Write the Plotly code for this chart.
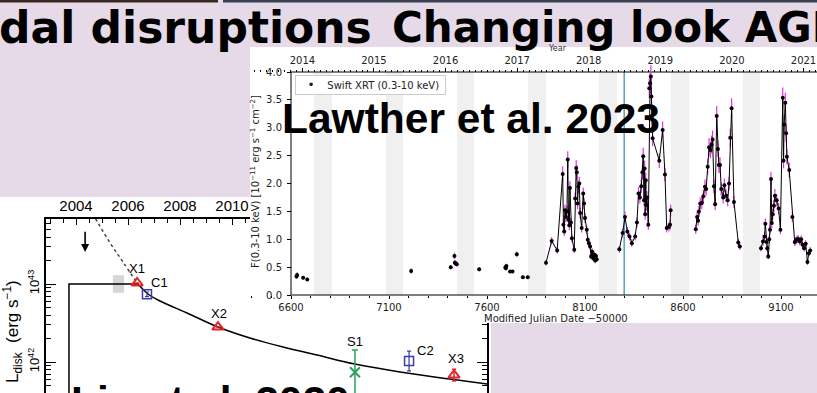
import numpy as np
import plotly.graph_objects as go

W, H = 817, 393

# ---------------- Swift XRT light curve (MJD-50000, 1e-11 erg/s/cm^2) ----------------
early_mjd = [6628, 6631, 6662, 6683, 7213, 7415, 7434, 7436, 7440, 7446, 7560,
             7694, 7696, 7699, 7718, 7730, 7752, 7783, 7808]
early_flux = [0.33, 0.36, 0.31, 0.28, 0.43, 0.50, 0.70, 0.58, 0.57, 0.55, 0.46,
              0.50, 0.48, 0.52, 0.42, 0.42, 0.73, 0.32, 0.32]
early_err = [0.04, 0.05, 0.03, 0.03, 0.05, 0.04, 0.06, 0.05, 0.05, 0.04, 0.04,
             0.04, 0.04, 0.04, 0.03, 0.03, 0.05, 0.03, 0.03]

s1_mjd = [7901, 7930, 7958, 7986, 7990, 7994, 7998, 8003, 8008, 8012, 8016, 8020, 8023,
          8028, 8033, 8045, 8050, 8055, 8058, 8062, 8066, 8071, 8075, 8083, 8091, 8095,
          8100, 8109, 8114, 8120, 8126, 8131, 8136, 8142, 8148, 8152, 8156, 8160]
s1_flux = [0.58, 0.97, 0.80, 2.17, 1.26, 1.14, 1.52, 1.40, 1.50, 2.43, 1.35, 1.25, 1.92,
           1.30, 1.02, 0.81, 1.73, 2.28, 2.20, 1.64, 1.94, 2.00, 1.47, 1.20, 1.82, 1.64,
           1.38, 1.17, 0.99, 0.93, 0.87, 0.69, 0.78, 0.66, 0.72, 0.62, 0.70, 0.64]
s1_err = [0.05, 0.07, 0.06, 0.14, 0.09, 0.08, 0.10, 0.09, 0.10, 0.15, 0.09, 0.09, 0.12,
          0.09, 0.07, 0.06, 0.11, 0.14, 0.13, 0.10, 0.12, 0.12, 0.10, 0.08, 0.11, 0.10,
          0.09, 0.08, 0.07, 0.07, 0.06, 0.05, 0.06, 0.05, 0.06, 0.05, 0.05, 0.05]

s2_mjd = [8275, 8292, 8304, 8316, 8327, 8339, 8356, 8365, 8373, 8380, 8387, 8393, 8397,
          8401, 8404, 8407, 8410, 8413, 8416, 8423, 8428, 8432, 8436, 8439, 8442, 8445,
          8479, 8496, 8508, 8517, 8528, 8534, 8537]
s2_flux = [0.82, 1.11, 1.40, 1.14, 1.05, 0.93, 1.05, 1.30, 1.82, 1.75, 1.95, 2.20, 2.49,
           1.70, 2.27, 1.45, 2.06, 1.62, 1.75, 1.26, 3.71, 3.80, 3.92, 3.56, 3.20, 2.81,
           2.41, 2.96, 2.16, 1.20, 1.22, 1.26, 1.52]
s2_err = [0.06, 0.08, 0.10, 0.08, 0.07, 0.07, 0.07, 0.09, 0.12, 0.11, 0.12, 0.13, 0.15,
          0.11, 0.14, 0.10, 0.13, 0.11, 0.11, 0.09, 0.18, 0.19, 0.20, 0.17, 0.16, 0.14,
          0.13, 0.15, 0.12, 0.08, 0.08, 0.09, 0.10]

s3_mjd = [8665, 8672, 8677, 8681, 8688, 8696, 8704, 8712, 8718, 8726, 8733, 8740, 8746,
          8751, 8758, 8764, 8772, 8778, 8783, 8789, 8795, 8805, 8811, 8820, 8828, 8835,
          8841, 8848, 8860, 8882, 8890]
s3_flux = [1.18, 1.40, 1.33, 1.50, 1.64, 1.65, 1.77, 1.94, 1.90, 2.30, 2.65, 2.60, 2.70,
           2.79, 1.95, 1.63, 3.21, 2.62, 2.33, 2.33, 1.90, 1.75, 1.97, 1.78, 1.70, 2.00,
           2.82, 3.35, 1.67, 0.94, 0.87]
s3_err = [0.08, 0.10, 0.09, 0.10, 0.11, 0.11, 0.12, 0.13, 0.12, 0.14, 0.16, 0.15, 0.16,
          0.16, 0.12, 0.11, 0.18, 0.15, 0.14, 0.14, 0.12, 0.11, 0.12, 0.11, 0.11, 0.12,
          0.16, 0.18, 0.11, 0.07, 0.06]

s4_mjd = [8998, 9008, 9016, 9020, 9026, 9030, 9035, 9040, 9044, 9049, 9053, 9058, 9064,
          9069, 9078, 9088, 9097, 9109, 9113, 9116, 9122, 9126, 9130, 9142, 9158, 9170,
          9175, 9182, 9189, 9196, 9203, 9210, 9218, 9226, 9235, 9242, 9249]
s4_flux = [0.84, 0.96, 1.05, 1.28, 0.95, 0.84, 0.69, 1.00, 1.17, 2.08, 1.29, 1.45, 1.60,
           1.78, 1.70, 1.55, 1.17, 3.54, 2.41, 3.06, 3.45, 2.90, 2.48, 2.24, 1.40, 0.95,
           0.97, 1.00, 1.00, 0.96, 1.00, 0.90, 0.84, 0.92, 0.59, 0.75, 0.80]
s4_err = [0.06, 0.07, 0.08, 0.09, 0.07, 0.06, 0.05, 0.07, 0.08, 0.13, 0.09, 0.10, 0.11,
          0.12, 0.11, 0.10, 0.08, 0.18, 0.14, 0.16, 0.18, 0.15, 0.14, 0.13, 0.09, 0.07,
          0.07, 0.07, 0.07, 0.07, 0.07, 0.06, 0.06, 0.06, 0.05, 0.05, 0.06]

# sun-constraint windows (no Swift visibility)
gap_start = [6717, 7085, 7447, 7809, 8171, 8539, 8906]
gap_end = [6809, 7171, 7534, 7901, 8263, 8631, 8993]
event_mjd = 8300
mjd_ticks = [6600, 7100, 7600, 8100, 8600, 9100]
year_ticks = [2014, 2015, 2016, 2017, 2018, 2019, 2020, 2021]
flux_ticks = [0.0, 0.5, 1.0, 1.5, 2.0, 2.5, 3.0, 3.5, 4.0]
xrt_label = "Swift XRT (0.3-10 keV)"

# ---------------- disk luminosity decay ----------------
step_year = [2003.73, 2003.73, 2006.35]
step_L = [1e41, 1.0e43, 1.0e43]
extrap_year = [2004.75, 2005.31, 2005.81, 2006.35]
extrap_L = [6.9e43, 3.36e43, 1.91e43, 1.03e43]
decay_year = [2006.35, 2006.77, 2007.23, 2008.27, 2009.46, 2010.69, 2011.96, 2013.27,
              2014.73, 2016.46, 2018.38, 2019.81]
decay_L = [1.03e43, 7.45e42, 6.05e42, 4.25e42, 2.81e42, 2.03e42, 1.56e42, 1.23e42,
           9.4e41, 7.45e41, 6.05e41, 5.22e41]
box_year = [2005.42, 2005.85]
box_L = [7.7e42, 1.30e43]
limit_year = 2004.35
limit_L = [4.9e43, 2.57e43]

xmm_name = ["X1", "X2", "X3"]
xmm_year = [2006.35, 2009.46, 2018.54]
xmm_L = [1.03e43, 2.8e42, 6.8e41]
xmm_up = [0, 0, 1.3e41]
xmm_dn = [0, 0, 1.1e41]
cxo_name = ["C1", "C2"]
cxo_year = [2006.73, 2016.81]
cxo_L = [7.4e42, 1.03e42]
cxo_up = [0.5e42, 0.35e42]
cxo_dn = [0.5e42, 0.26e42]
swift_name = ["S1"]
swift_year = [2014.73]
swift_L = [7.4e41]
swift_up = [6.9e41]
swift_dn = [7.0e41]
lin_year_ticks = [2004, 2006, 2008, 2010, 2012, 2014, 2016, 2018]

# ---------------- geometry ----------------
px_per_day = 0.196
x2_range = [6600 - 41 / px_per_day, 6600 + 526 / px_per_day]
f_px = 223 / 4.0
y2_range = [(295 - 323) / f_px, (295 - 47) / f_px]


def mjd_to_year(m):
    return 2014.0 + (m - 6658.0) / 365.25


x3_range = [mjd_to_year(v) for v in x2_range]

mon_mjd, mon_flux, mon_err = [], [], []
for m, f, e in [(s1_mjd, s1_flux, s1_err), (s2_mjd, s2_flux, s2_err),
                (s3_mjd, s3_flux, s3_err), (s4_mjd, s4_flux, s4_err)]:
    mon_mjd += m + [None]
    mon_flux += f + [None]
    mon_err += e + [0]

SANS = "Liberation Sans, Arial, sans-serif"
DJ = "DejaVu Sans, sans-serif"
ERRC = "#e632e6"

fig = go.Figure()

# lower panel: L_disk history
fig.add_trace(go.Scatter(x=[box_year[0], box_year[1], box_year[1], box_year[0], box_year[0]],
                         y=[box_L[0], box_L[0], box_L[1], box_L[1], box_L[0]],
                         fill="toself", fillcolor="#d6d6d6", mode="lines", line=dict(width=0),
                         showlegend=False, hoverinfo="skip"))
fig.add_trace(go.Scatter(x=step_year, y=step_L, mode="lines",
                         line=dict(color="black", width=1.5), showlegend=False))
fig.add_trace(go.Scatter(x=extrap_year, y=extrap_L, mode="lines", line_shape="spline",
                         line=dict(color="#444444", width=1.5, dash="dot"), showlegend=False))
fig.add_trace(go.Scatter(x=decay_year, y=decay_L, mode="lines", line_shape="spline",
                         line=dict(color="black", width=1.5), showlegend=False))
fig.add_trace(go.Scatter(x=swift_year, y=swift_L, mode="markers",
                         marker=dict(symbol="x-thin", size=10, line=dict(color="#2aa15a", width=2)),
                         error_y=dict(type="data", array=swift_up, arrayminus=swift_dn,
                                      color="#2aa15a", thickness=1.5, width=3),
                         showlegend=False))
fig.add_trace(go.Scatter(x=cxo_year, y=cxo_L, mode="markers",
                         marker=dict(symbol="square-open", size=9, color="#3a3aa8",
                                     line=dict(width=1.5)),
                         error_y=dict(type="data", array=cxo_up, arrayminus=cxo_dn,
                                      color="#3a3aa8", thickness=1.2, width=2),
                         showlegend=False))
fig.add_trace(go.Scatter(x=xmm_year, y=xmm_L, mode="markers",
                         marker=dict(symbol="triangle-up-open", size=10, color="#e4252b",
                                     line=dict(width=2)),
                         error_y=dict(type="data", array=xmm_up, arrayminus=xmm_dn,
                                      color="#e4252b", thickness=1.5, width=2),
                         showlegend=False))

# upper panel: X-ray light curve
fig.add_trace(go.Scatter(x=early_mjd, y=early_flux, mode="markers", xaxis="x2", yaxis="y2",
                         marker=dict(color="black", size=4),
                         error_y=dict(type="data", array=early_err, color=ERRC,
                                      thickness=1.2, width=0),
                         showlegend=False))
fig.add_trace(go.Scatter(x=mon_mjd, y=mon_flux, mode="lines+markers", xaxis="x2", yaxis="y2",
                         connectgaps=False, line=dict(color="black", width=1),
                         marker=dict(color="black", size=4),
                         error_y=dict(type="data", array=mon_err, color=ERRC,
                                      thickness=1.2, width=0),
                         name=xrt_label, showlegend=False))
fig.add_trace(go.Scatter(x=[year_ticks[0]], y=[None], mode="markers", xaxis="x3", yaxis="y2",
                         showlegend=False, hoverinfo="skip"))

shapes = [
    dict(type="rect", xref="paper", yref="paper", x0=0, x1=218 / W, y0=1 - 2.5 / H, y1=1,
         fillcolor="#3a2620", line=dict(width=0), layer="below"),
    dict(type="rect", xref="paper", yref="paper", x0=223 / W, x1=1, y0=1 - 2.5 / H, y1=1,
         fillcolor="#394052", line=dict(width=0), layer="below"),
    dict(type="rect", xref="paper", yref="paper", x0=0, x1=491 / W, y0=0, y1=1 - 197 / H,
         fillcolor="white", line=dict(width=0), layer="below"),
    dict(type="rect", xref="x2", yref="y2", x0=x2_range[0], x1=x2_range[1] + 50,
         y0=y2_range[0] - 1, y1=y2_range[1] + 1, fillcolor="white", line=dict(width=0),
         layer="below"),
]
for a, b in zip(gap_start, gap_end):
    shapes.append(dict(type="rect", xref="x2", yref="y2", x0=a, x1=b, y0=0, y1=4,
                       fillcolor="#f0f0f0", line=dict(width=0), layer="below"))
shapes.append(dict(type="line", xref="x2", yref="y2", x0=event_mjd, x1=event_mjd, y0=0, y1=4,
                   line=dict(color="#5e9cc8", width=1.5), layer="below"))
shapes.append(dict(type="rect", xref="x2", yref="y2", x0=6600, x1=x2_range[1] + 50, y0=0, y1=4,
                   line=dict(color="black", width=1), fillcolor="rgba(0,0,0,0)", layer="below"))


def paper_text(text, x, y, size, family=DJ, color="#222222", angle=0, xanchor="center",
               weight="normal", xshift=0):
    return dict(text=text, x=x / W, y=1 - y / H, xref="paper", yref="paper",
                xanchor=xanchor, yanchor="middle", showarrow=False, textangle=angle,
                xshift=xshift, font=dict(family=family, size=size, color=color, weight=weight))


nb = "&nbsp;"
legend_box = dict(text=nb * 3 + "<span style='font-size:12px'>•</span>" + nb * 4 + xrt_label,
                  x=295 / W, y=1 - 75 / H, xref="paper", yref="paper", xanchor="left",
                  yanchor="top", align="left", width=145, showarrow=False,
                  bgcolor="white", bordercolor="#cccccc", borderwidth=1, borderpad=2,
                  font=dict(family=DJ, size=10, color="#222222"))

annotations = [
    paper_text("dal disruptions", 0, 28, 44, color="black", xanchor="left", weight="bold",
               xshift=-3),
    paper_text("Changing look AGN", 390, 28, 42, color="black", xanchor="left", weight="bold"),
    paper_text("Year", 557, 49, 8, color="#333333"),
    paper_text("F(0.3-10 keV) [10<sup>−11</sup> erg s<sup>−1</sup> cm<sup>−2</sup>]",
               255, 182, 10, angle=-90),
    paper_text("Modified Julian Date −50000", 556, 318, 10),
    paper_text("L<sub>disk</sub>" + nb + " (erg s<sup>−1</sup>)", 12, 332, 17, family=SANS,
               color="black", angle=-90),
    legend_box,
    paper_text("Lawther et al. 2023", 280, 118, 42.5, family=SANS, color="black",
               xanchor="left", weight="bold"),
    paper_text("Lin et al. 2020", 69, 402, 42.5, family=SANS, color="black",
               xanchor="left", weight="bold"),
    dict(text="", x=limit_year, y=np.log10(limit_L[1]), ax=limit_year, ay=np.log10(limit_L[0]),
         xref="x", yref="y", axref="x", ayref="y", showarrow=True, arrowhead=2,
         arrowsize=1, arrowwidth=1.6, arrowcolor="black"),
]

label_shift = {"X1": (0, 15), "C1": (13, 12), "X2": (1, 14), "S1": (0, 31),
               "C2": (16, 11), "X3": (2, 17)}
for names, yrs, Ls in [(xmm_name, xmm_year, xmm_L), (cxo_name, cxo_year, cxo_L),
                       (swift_name, swift_year, swift_L)]:
    for n, yr, L in zip(names, yrs, Ls):
        dx, dy = label_shift[n]
        annotations.append(dict(text=n, x=yr, y=np.log10(L), xref="x", yref="y",
                                xanchor="center", yanchor="middle",
                                xshift=dx, yshift=dy, showarrow=False,
                                font=dict(family=SANS, size=13, color="black")))

minor_L = [m * 10.0 ** e for e in (41, 42, 43) for m in range(2, 10)]

fig.update_layout(
    width=W, height=H, margin=dict(l=0, r=0, t=0, b=0),
    paper_bgcolor="#e6dae8", plot_bgcolor="rgba(0,0,0,0)",
    shapes=shapes, annotations=annotations, showlegend=False,
    xaxis=dict(domain=[46 / W, 487 / W], anchor="y", side="top",
               range=[2004 + (46 - 76) / 26, 2004 + (487 - 76) / 26],
               tickvals=lin_year_ticks, ticks="inside", ticklen=6, tickwidth=1.2,
               tickcolor="black", showline=True, linecolor="black", linewidth=1.5,
               showgrid=False, zeroline=False,
               tickfont=dict(family=SANS, size=15, color="black"),
               minor=dict(ticks="inside", dtick=0.5, ticklen=4, tickcolor="black")),
    yaxis=dict(domain=[0, 1 - 219 / H], anchor="x", type="log",
               range=[43 + (284 - 393) / 78, 43 + (284 - 219) / 78],
               tickvals=[1e42, 1e43], ticktext=["10<sup>42</sup>", "10<sup>43</sup>"],
               tickangle=-90, ticks="inside", ticklen=10, tickwidth=1.2, tickcolor="black",
               showline=True, mirror="ticks", linecolor="black", linewidth=1.5,
               showgrid=False, zeroline=False,
               tickfont=dict(family=SANS, size=13, color="black"),
               minor=dict(ticks="inside", tickvals=minor_L, ticklen=5, tickcolor="black")),
    xaxis2=dict(domain=[250 / W, 1], anchor="free", position=1 - 295 / H, range=x2_range,
                tickvals=mjd_ticks, ticks="outside", ticklen=3, tickcolor="black",
                showline=False, showgrid=False, zeroline=False,
                tickfont=dict(family=DJ, size=10, color="#222222"),
                minor=dict(ticks="outside", dtick=100, tick0=6600, ticklen=2,
                           tickcolor="black")),
    yaxis2=dict(domain=[1 - 323 / H, 1 - 47 / H], anchor="free", position=291 / W,
                range=y2_range, tickvals=flux_ticks, tickformat=".1f", ticks="outside",
                ticklen=4, tickcolor="black", showline=False, showgrid=False, zeroline=False,
                ticklabelstandoff=3,
                tickfont=dict(family=DJ, size=10, color="#222222")),
    xaxis3=dict(overlaying="x2", anchor="free", position=1 - 72 / H, side="top",
                range=x3_range, tickvals=year_ticks, ticks="outside", ticklen=4,
                tickcolor="black", showline=False, showgrid=False, zeroline=False,
                tickfont=dict(family=DJ, size=10, color="#222222"),
                minor=dict(ticks="outside", dtick=1 / 12, tick0=2014, ticklen=2,
                           tickcolor="black")),
)

fig.write_html("out.html")
